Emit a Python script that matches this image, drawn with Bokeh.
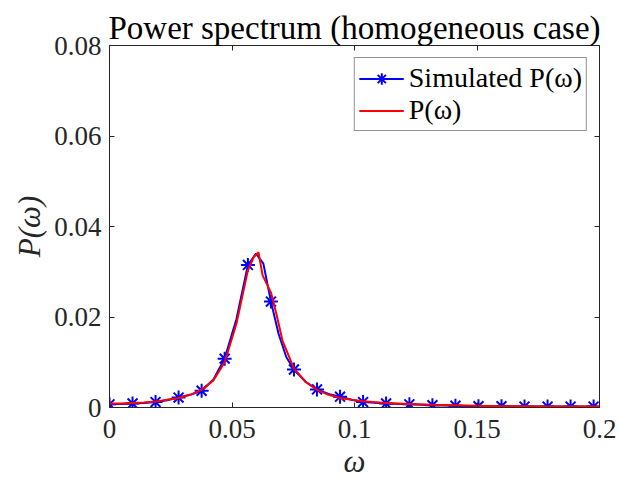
from bokeh.plotting import figure
from bokeh.models import LinearAxis, FixedTicker, Legend, LegendItem
from bokeh.embed import file_html
from bokeh.resources import INLINE

# ---- data ----
sim_w = [0, 0.0047, 0.0094, 0.0141, 0.0188, 0.0235, 0.0282, 0.0329, 0.0376, 0.0424,
         0.047, 0.0518, 0.0565, 0.0598, 0.0628, 0.0659, 0.069, 0.0722, 0.0753, 0.08,
         0.0847, 0.0894, 0.0941, 0.0988, 0.1035, 0.1129, 0.1224, 0.1318, 0.1412, 0.1506,
         0.16, 0.1694, 0.1788, 0.1882, 0.1976]
sim_p = [0.0007, 0.0008, 0.0009, 0.0010, 0.0012, 0.0016, 0.0022, 0.0028, 0.0037, 0.0062,
         0.0108, 0.0195, 0.0315, 0.0340, 0.0318, 0.0234, 0.0163, 0.0111, 0.0084, 0.0057,
         0.0040, 0.0030, 0.0024, 0.0017, 0.0012, 0.0009, 0.0007, 0.0005, 0.0004, 0.0003,
         0.0003, 0.0002, 0.0002, 0.0002, 0.0002]

marker_w = [0, 0.0094, 0.0188, 0.0282, 0.0376, 0.047, 0.0565, 0.0659, 0.0753, 0.0847,
            0.0941, 0.1035, 0.1129, 0.1224, 0.1318, 0.1412, 0.1506, 0.16, 0.1694, 0.1788,
            0.1882, 0.1976]
marker_p = [0.0007, 0.0009, 0.0012, 0.0022, 0.0037, 0.0108, 0.0315, 0.0234, 0.0084, 0.0040,
            0.0024, 0.0012, 0.0009, 0.0007, 0.0005, 0.0004, 0.0003, 0.0003, 0.0002, 0.0002,
            0.0002, 0.0002]

theo_w = [0, 0.0047, 0.0094, 0.0141, 0.0188, 0.0235, 0.0282, 0.0329, 0.0376, 0.0424,
          0.047, 0.0518, 0.0565, 0.0588, 0.0608, 0.0625, 0.0659, 0.0682, 0.0706, 0.0753,
          0.08, 0.0847, 0.0894, 0.0941, 0.0988, 0.1035, 0.1129, 0.1224, 0.1318, 0.1412,
          0.1506, 0.16, 0.1694, 0.1788, 0.1882, 0.2]
theo_p = [0.0009, 0.0009, 0.0010, 0.0011, 0.0013, 0.0017, 0.0021, 0.0028, 0.0039, 0.0060,
          0.0100, 0.0185, 0.0303, 0.0332, 0.0343, 0.0292, 0.0254, 0.0205, 0.0148, 0.0086,
          0.0057, 0.0039, 0.0028, 0.0021, 0.0017, 0.0014, 0.0010, 0.0008, 0.0006, 0.0005,
          0.0004, 0.0003, 0.0003, 0.0002, 0.0002, 0.0002]

x_ticks = [0, 0.05, 0.1, 0.15, 0.2]
x_tick_labels = ["0", "0.05", "0.1", "0.15", "0.2"]
y_ticks = [0, 0.02, 0.04, 0.06, 0.08]
y_tick_labels = ["0", "0.02", "0.04", "0.06", "0.08"]

title_text = "Power spectrum (homogeneous case)"
x_label = "ω"
y_label = "P(ω)"
legend_labels = ["Simulated P(ω)", "P(ω)"]

FONT = "Liberation Serif"
AX = "#262626"

p = figure(width=619, height=481, x_range=(0, 0.2), y_range=(0, 0.08),
           output_backend="svg", toolbar_location=None,
           min_border_left=109, min_border_right=20, min_border_top=45, min_border_bottom=73,
           title=title_text)

p.title.text_font = FONT
p.title.text_font_size = "33px"
p.title.text_font_style = "normal"
p.title.align = "center"
p.title.text_color = "#000000"
p.title.standoff = 0

p.grid.visible = False
p.outline_line_color = AX
p.outline_line_width = 1
p.background_fill_color = "white"
p.border_fill_color = "white"

def style_axis(ax, ticks, labels, show_labels=True):
    ax.ticker = FixedTicker(ticks=ticks)
    ax.major_tick_in = 5
    ax.major_tick_out = 0
    ax.minor_tick_line_color = None
    ax.axis_line_color = AX
    ax.major_tick_line_color = AX
    ax.major_label_text_font = FONT
    ax.major_label_text_color = AX
    if show_labels:
        ax.major_label_overrides = {t: l for t, l in zip(ticks, labels)}
        ax.major_label_text_font_size = "27px"
    else:
        ax.major_label_overrides = {t: "" for t in ticks}
        ax.major_label_text_font_size = "2px"
        ax.major_label_standoff = 0

style_axis(p.xaxis[0], x_ticks, x_tick_labels)
style_axis(p.yaxis[0], y_ticks, y_tick_labels)
p.xaxis[0].major_label_standoff = 12
p.yaxis[0].major_label_standoff = 8

p.xaxis[0].axis_label = x_label
p.yaxis[0].axis_label = y_label
for ax in (p.xaxis[0], p.yaxis[0]):
    ax.axis_label_text_font = FONT
    ax.axis_label_text_font_style = "italic"
    ax.axis_label_text_font_size = "31px"
    ax.axis_label_text_color = AX
p.xaxis[0].axis_label_standoff = 3
p.yaxis[0].axis_label_standoff = 4

top = LinearAxis()
right = LinearAxis()
style_axis(top, x_ticks, x_tick_labels, show_labels=False)
style_axis(right, y_ticks, y_tick_labels, show_labels=False)
p.add_layout(top, "above")
p.add_layout(right, "right")

r_sim = p.line(sim_w, sim_p, line_color="#0000ff", line_width=2)
r_mk = p.scatter(marker_w, marker_p, marker="asterisk", size=14,
                 line_color="#0000ff", line_width=2)
r_th = p.line(theo_w, theo_p, line_color="#ff0000", line_width=2)

legend = Legend(items=[LegendItem(label=legend_labels[0], renderers=[r_sim, r_mk]),
                       LegendItem(label=legend_labels[1], renderers=[r_th])],
                location="top_right")
legend.margin = 12
legend.padding = 4
legend.spacing = 0
legend.label_height = 29
legend.glyph_height = 29
legend.glyph_width = 45
legend.label_standoff = 5
legend.label_text_font = FONT
legend.label_text_font_size = "28px"
legend.label_text_color = "#000000"
legend.border_line_color = AX
legend.border_line_width = 1
legend.background_fill_color = "white"
legend.background_fill_alpha = 1
p.add_layout(legend, "center")

open("out.html", "w").write(file_html(p, INLINE))
